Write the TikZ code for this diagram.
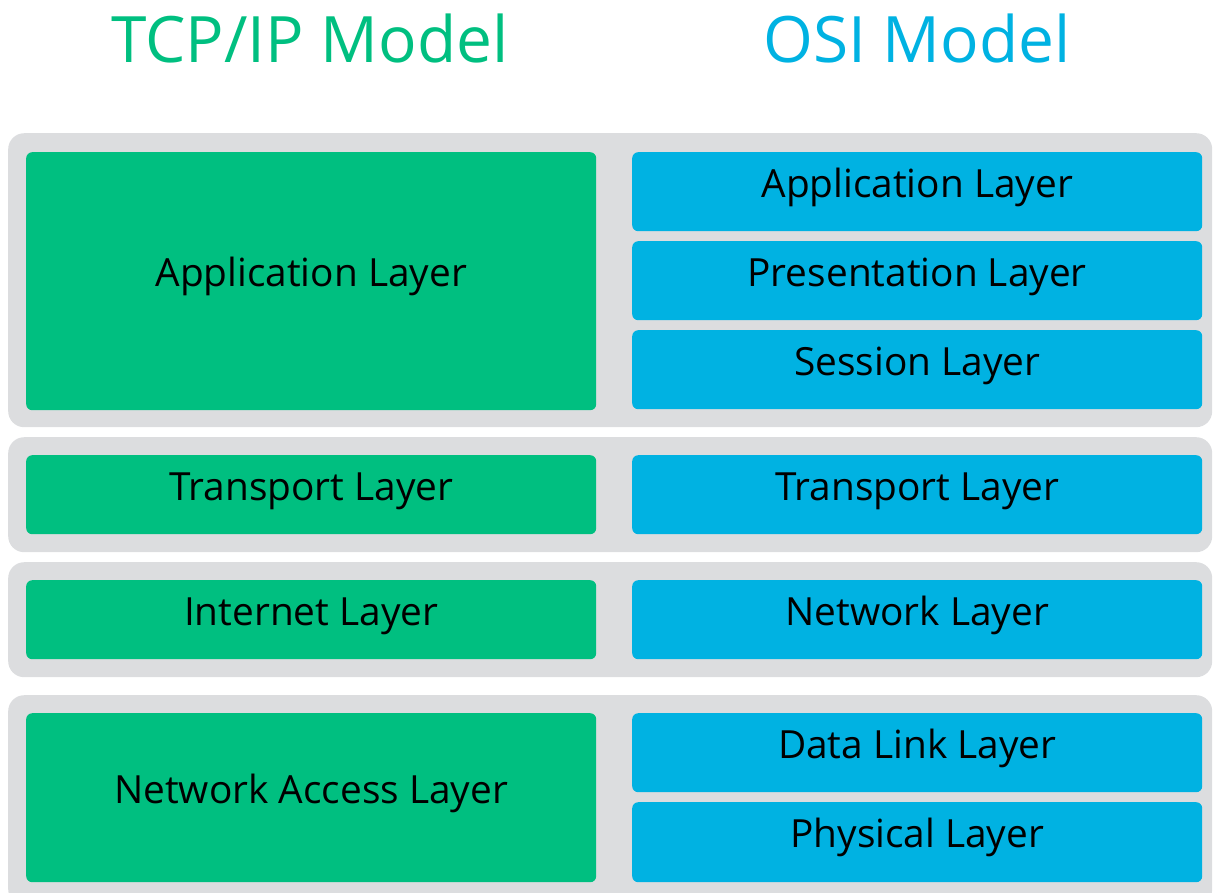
\documentclass[tikz,border=0pt]{standalone}
\usepackage{fontspec}
\setmainfont{Open Sans}
\definecolor{tcpgreen}{HTML}{00BF80}
\definecolor{osiblue}{HTML}{00B2E2}
\definecolor{framegray}{HTML}{DCDDDF}

\begin{document}
\begin{tikzpicture}[x=1pt, y=-1pt,
  frame/.style={fill=framegray, rounded corners=16pt, anchor=north west, inner sep=0pt, minimum width=1204pt},
  tcp/.style={fill=tcpgreen, rounded corners=6pt, anchor=north west, inner sep=0pt, minimum width=570pt, minimum height=79pt,
    font=\fontsize{38.8}{46}\selectfont, text height=27pt, text depth=16pt},
  osi/.style={tcp, fill=osiblue},
  title/.style={anchor=base, font=\fontsize{64}{77}\selectfont}]
\useasboundingbox (0,0) rectangle (1215,892);
\clip (0,0) rectangle (1215,892);
\node[title, text=tcpgreen] (tcptitle) at (310,62) {TCP/IP Model};
\node[title, text=osiblue]  (osititle) at (917,62) {OSI Model};
\node[frame, minimum height=294pt] (upper)  at (8,133) {};
\node[frame, minimum height=115pt] (middle) at (8,437) {};
\node[frame, minimum height=115pt] (lower)  at (8,562) {};
\node[frame, minimum height=210pt] (bottom) at (8,695) {};
\node[tcp, minimum height=258pt] (tcpapp) at (26,152) {Application Layer};
\node[tcp] (tcptrans) at (26,455) {Transport Layer};
\node[tcp] (tcpnet)   at (26,580) {Internet Layer};
\node[tcp, minimum height=169pt] (tcpaccess) at (26,713) {Network Access Layer};
\node[osi] (osiapp)   at (632,152) {Application Layer};
\node[osi] (osipres)  at (632,241) {Presentation Layer};
\node[osi] (osisess)  at (632,330) {Session Layer};
\node[osi] (ositrans) at (632,455) {Transport Layer};
\node[osi] (osinet)   at (632,580) {Network Layer};
\node[osi] (osilink)  at (632,713) {Data Link Layer};
\node[osi, minimum height=80pt] (osiphys) at (632,802) {Physical Layer};
\end{tikzpicture}
\end{document}
